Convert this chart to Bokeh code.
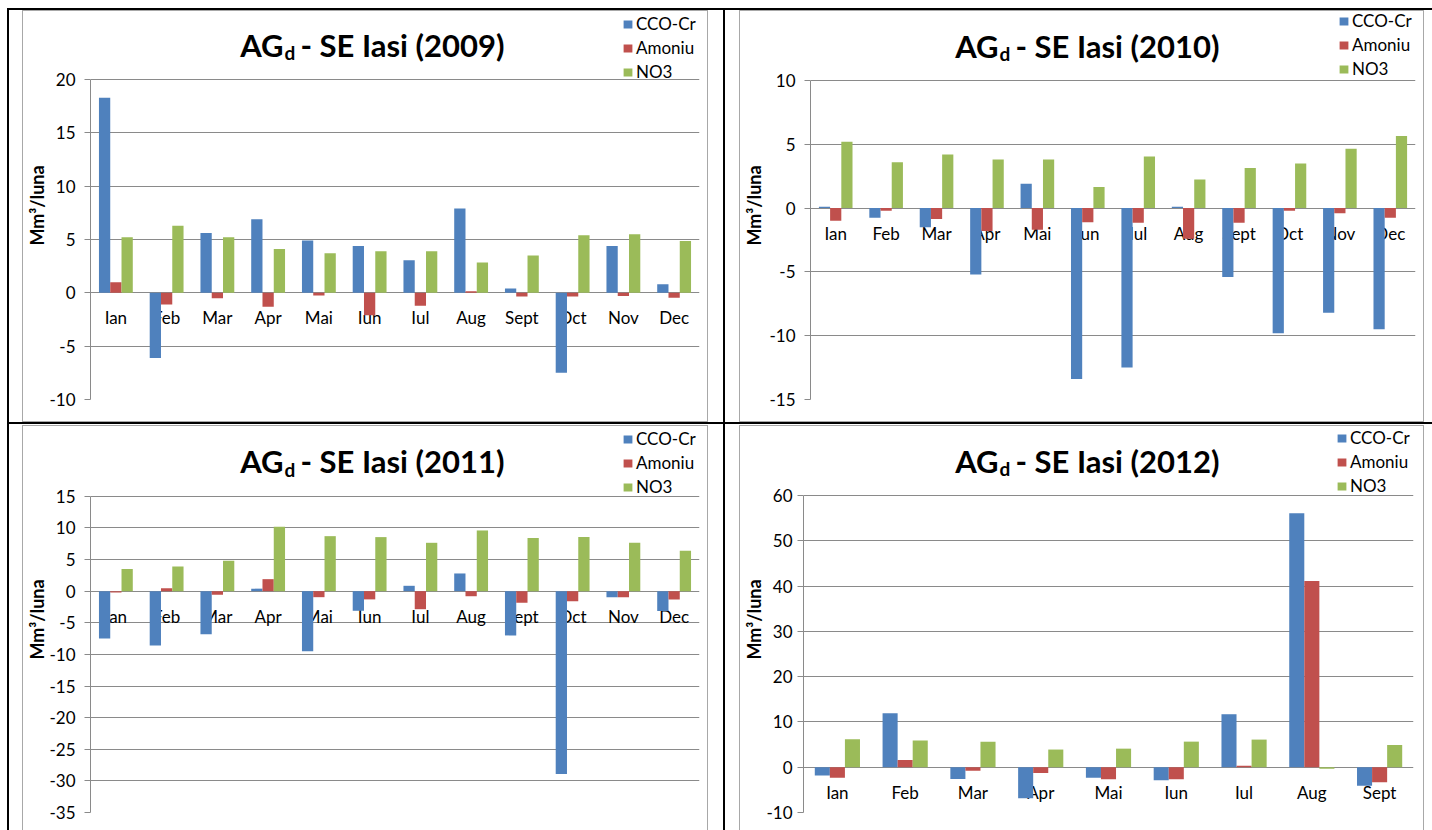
from bokeh.plotting import figure
from bokeh.models import (ColumnDataSource, FactorRange, FixedTicker, Label,
                          Legend, LegendItem, Range1d, Spacer)
from bokeh.layouts import column, row
from bokeh.transform import dodge
from bokeh.core.properties import value
from bokeh.embed import file_html
from bokeh.resources import INLINE

# ---- data: monthly balance per indicator, Mm3/luna ----
months = ["Ian", "Feb", "Mar", "Apr", "Mai", "Iun", "Iul", "Aug", "Sept", "Oct", "Nov", "Dec"]
months_2012 = ["Ian", "Feb", "Mar", "Apr", "Mai", "Iun", "Iul", "Aug", "Sept"]
series_names = ["CCO-Cr", "Amoniu", "NO3"]

cco_2009 = [18.3, -6.1, 5.6, 6.9, 4.9, 4.4, 3.05, 7.9, 0.4, -7.5, 4.4, 0.8]
amoniu_2009 = [1.0, -1.1, -0.5, -1.3, -0.25, -2.1, -1.2, 0.15, -0.35, -0.35, -0.3, -0.45]
no3_2009 = [5.2, 6.3, 5.2, 4.1, 3.7, 3.9, 3.9, 2.85, 3.5, 5.4, 5.5, 4.85]

cco_2010 = [0.1, -0.75, -1.5, -5.2, 1.9, -13.4, -12.5, 0.1, -5.4, -9.8, -8.2, -9.5]
amoniu_2010 = [-1.0, -0.2, -0.85, -1.8, -1.7, -1.1, -1.15, -2.4, -1.15, -0.2, -0.4, -0.75]
no3_2010 = [5.2, 3.6, 4.2, 3.8, 3.8, 1.65, 4.05, 2.25, 3.15, 3.5, 4.65, 5.65]

cco_2011 = [-7.5, -8.6, -6.8, 0.4, -9.5, -3.1, 0.85, 2.8, -7.0, -28.9, -0.95, -3.15]
amoniu_2011 = [-0.2, 0.45, -0.55, 1.9, -0.95, -1.3, -2.85, -0.8, -1.85, -1.6, -0.95, -1.3]
no3_2011 = [3.5, 3.9, 4.8, 10.2, 8.7, 8.55, 7.65, 9.6, 8.4, 8.55, 7.65, 6.4]

cco_2012 = [-1.85, 11.9, -2.6, -6.85, -2.35, -2.9, 11.7, 56.1, -4.1]
amoniu_2012 = [-2.35, 1.6, -0.8, -1.3, -2.65, -2.65, 0.3, 41.1, -3.3]
no3_2012 = [6.2, 5.9, 5.65, 3.9, 4.1, 5.65, 6.1, -0.35, 4.9]

ticks_2009 = [-10, -5, 0, 5, 10, 15, 20]
ticks_2010 = [-15, -10, -5, 0, 5, 10]
ticks_2011 = [-35, -30, -25, -20, -15, -10, -5, 0, 5, 10, 15]
ticks_2012 = [-10, 0, 10, 20, 30, 40, 50, 60]

# ---- styling ----
COLORS = ["#4F81BD", "#C0504D", "#9BBB59"]
GRID = "#8a8a8a"
FONT = "Lato"
BAR_W = 1 / 4.5          # 150 % gap width, three bars per month


def make_chart(year, cats, cco, amoniu, no3, ticks, size, borders, top_band,
               title_x, legend_xy, standoffs):
    width, height = size
    left, right, bottom = borders
    ymin, ymax = ticks[0], ticks[-1]
    # the frame also covers the title/legend band above the top gridline,
    # so the annotations placed there stay inside the drawable area
    fh = height - bottom - top_band
    ytop_ext = ymax + top_band * (ymax - ymin) / fh
    src = ColumnDataSource(dict(month=cats, cco=cco, amoniu=amoniu, no3=no3))

    p = figure(x_range=FactorRange(*cats), y_range=Range1d(ymin, ytop_ext),
               width=width, height=height,
               min_border_left=left, min_border_right=right,
               min_border_top=0, min_border_bottom=bottom,
               x_axis_location=None, toolbar_location=None,
               output_backend="svg", title=None,
               styles={"box-shadow": "0 0 0 1px #a8a8a8"})
    p.outline_line_color = None
    p.background_fill_color = "white"
    p.border_fill_color = "white"

    yax = p.yaxis[0]
    yax.ticker = FixedTicker(ticks=ticks)
    yax.major_label_overrides = {t: str(t) for t in ticks}
    yax.bounds = (ymin, ymax)
    yax.axis_line_color = GRID
    yax.major_tick_line_color = GRID
    yax.major_tick_out = 6
    yax.major_tick_in = 0
    yax.minor_tick_line_color = None
    yax.major_label_standoff = standoffs[0]
    yax.major_label_text_font = FONT
    yax.major_label_text_font_size = "17px"
    yax.major_label_text_color = "#000000"
    yax.axis_label = "Mm³/luna"
    yax.axis_label_text_font = FONT
    yax.axis_label_text_font_size = "18px"
    yax.axis_label_text_font_style = "bold"
    yax.axis_label_text_color = "#000000"
    yax.axis_label_standoff = standoffs[1]

    p.xgrid.grid_line_color = None
    p.ygrid.ticker = FixedTicker(ticks=ticks)
    p.ygrid.grid_line_color = GRID
    p.ygrid.grid_line_width = 1

    # month names sit just under the zero line
    p.text(x="month", y=0, text="month", source=src, y_offset=25,
           text_align="center", text_baseline="middle",
           text_font=value(FONT), text_font_size=value("17px"), text_color="#000000")

    renderers = []
    for off, col, color in zip((-BAR_W, 0, BAR_W), ("cco", "amoniu", "no3"), COLORS):
        r = p.vbar(x=dodge("month", off, range=p.x_range), top=col, width=BAR_W,
                   source=src, fill_color=color, line_color=None)
        renderers.append(r)

    legend = Legend(items=[LegendItem(label=n, renderers=[r]) for n, r in zip(series_names, renderers)],
                    location=legend_xy, orientation="vertical",
                    glyph_width=11, glyph_height=10, label_standoff=3,
                    label_text_font=FONT, label_text_font_size="17px",
                    label_text_color="#000000", label_height=20,
                    spacing=3, padding=0, margin=0,
                    border_line_color=None, background_fill_alpha=0)
    p.add_layout(legend)

    # title "AG_d - SE Iasi (year)" with a subscript d
    ax, bx = title_x
    p.add_layout(Label(x=0, y=ymax, x_offset=ax, y_offset=35, text="AG",
                       text_align="right", text_baseline="alphabetic",
                       text_font=FONT, text_font_size="31px", text_font_style="bold",
                       text_color="#000000"))
    p.add_layout(Label(x=0, y=ymax, x_offset=ax + 1, y_offset=27, text="d",
                       text_align="left", text_baseline="alphabetic",
                       text_font=FONT, text_font_size="19px", text_font_style="bold",
                       text_color="#000000"))
    p.add_layout(Label(x=0, y=ymax, x_offset=bx, y_offset=35, text=f"- SE Iasi ({year})",
                       text_align="left", text_baseline="alphabetic",
                       text_font=FONT, text_font_size="31px", text_font_style="bold",
                       text_color="#000000"))
    return p


p1 = make_chart(2009, months, cco_2009, amoniu_2009, no3_2009, ticks_2009,
                (684, 410), (67, 8, 22), 68, (193, 210), (532, 317), (9, -2))
p2 = make_chart(2010, months, cco_2010, amoniu_2010, no3_2010, ticks_2010,
                (683, 410), (70, 8, 22), 69, (188, 205), (528, 320), (9, 1))
p3 = make_chart(2011, months, cco_2011, amoniu_2011, no3_2011, ticks_2011,
                (684, 404), (67, 8, 17), 70, (193, 210), (532, 315), (9, -2))
p4 = make_chart(2012, months_2012, cco_2012, amoniu_2012, no3_2012, ticks_2012,
                (683, 404), (63, 10, 18), 69, (195, 212), (533, 316), (5, -2))

# table rules behind the four chart areas
table_bg = ("linear-gradient(#000,#000) 7px 8px / 2px 822px no-repeat, "
            "linear-gradient(#000,#000) 723px 8px / 2px 822px no-repeat, "
            "linear-gradient(#000,#000) 7px 8px / 1425px 2px no-repeat, "
            "linear-gradient(#000,#000) 7px 422px / 1425px 2px no-repeat, #ffffff")

layout = column(
    Spacer(width=1432, height=11),
    row(Spacer(width=23, height=1), p1, Spacer(width=33, height=1), p2),
    Spacer(width=1432, height=5),
    row(Spacer(width=23, height=1), p3, Spacer(width=33, height=1), p4),
    styles={"background": table_bg, "width": "1432px", "height": "830px", "overflow": "hidden"},
)

open("out.html", "w").write(file_html(layout, INLINE))
